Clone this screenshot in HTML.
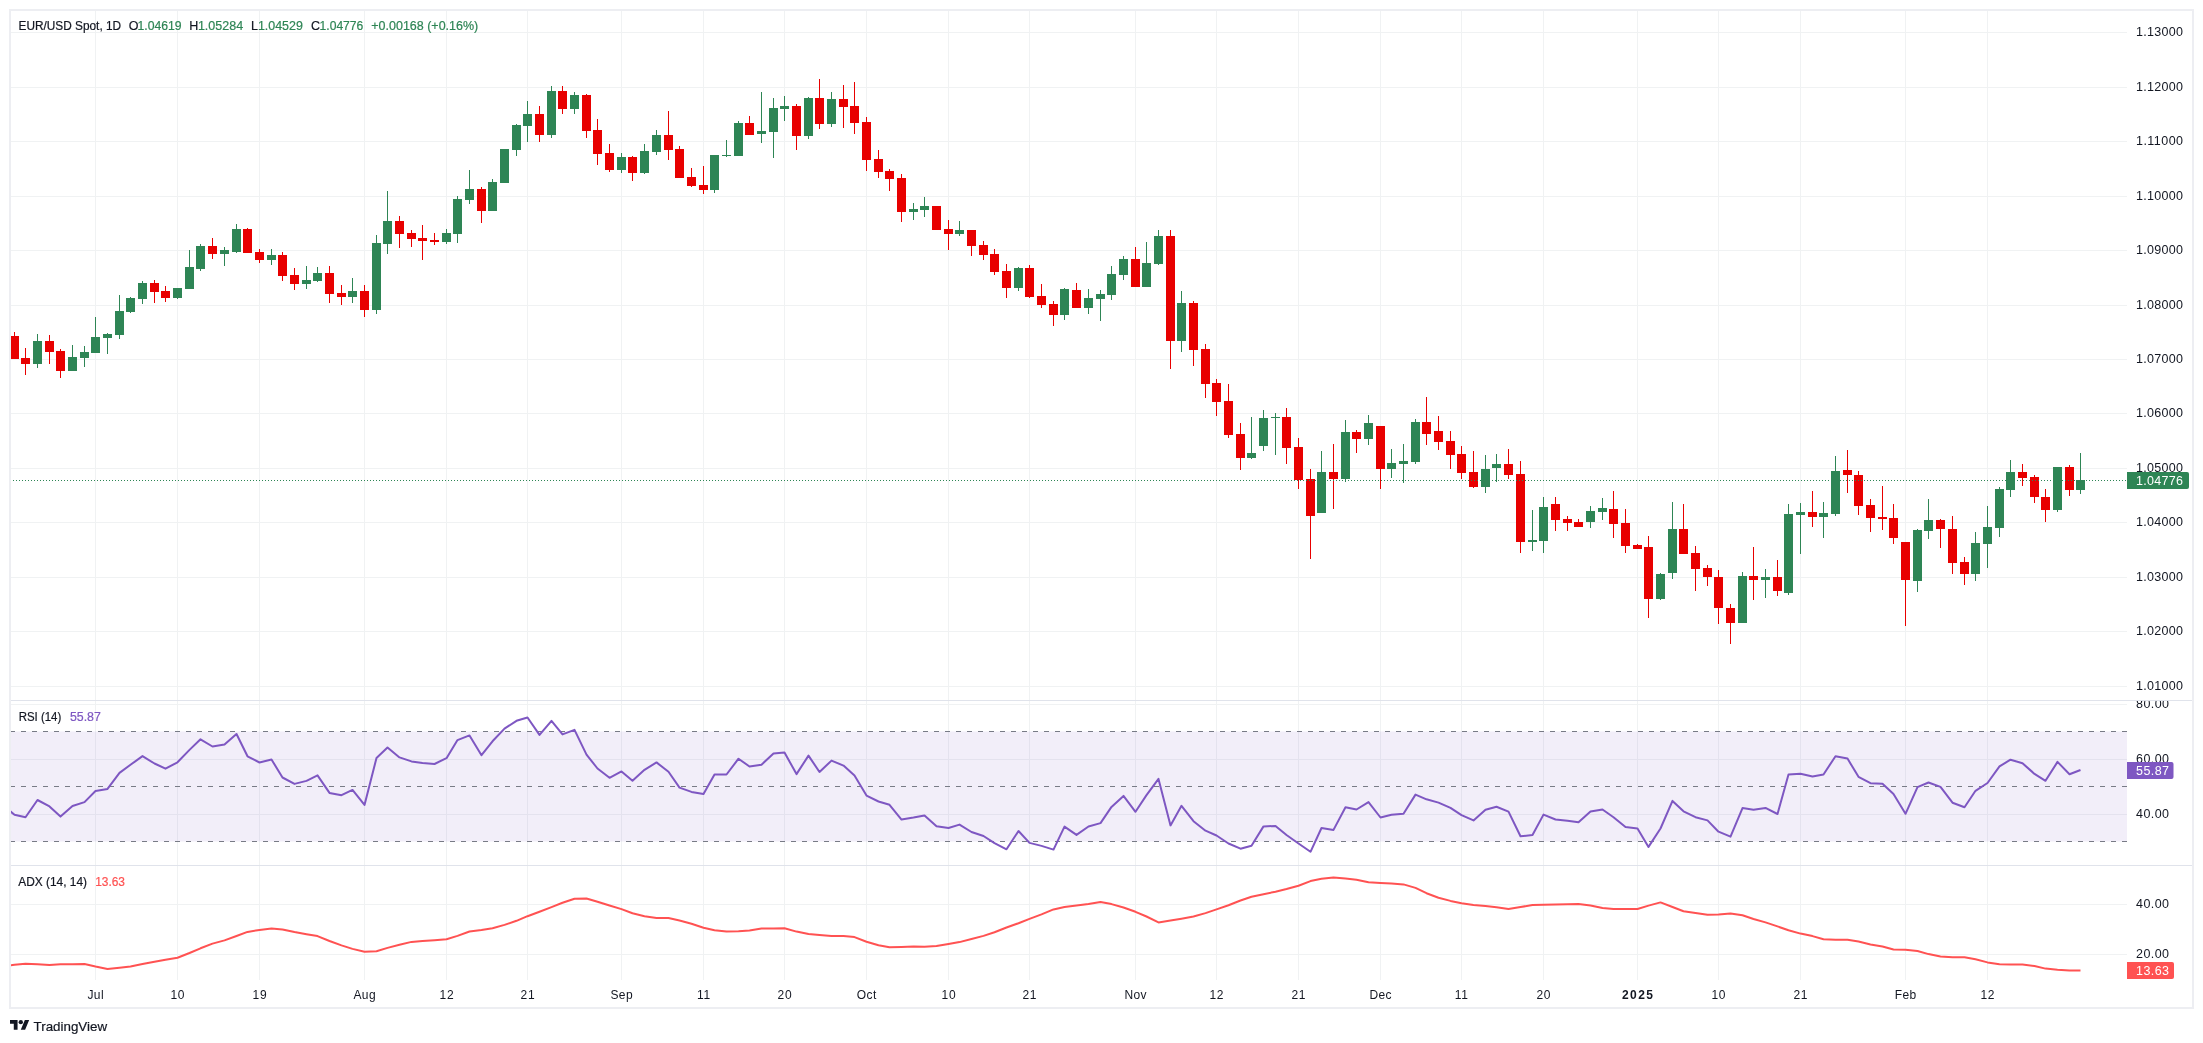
<!DOCTYPE html><html><head><meta charset="utf-8"><style>html,body{margin:0;padding:0;background:#fff;}svg{display:block;} #wrap{position:absolute;left:0;top:0;will-change:transform;} text{font-family:'Liberation Sans', sans-serif;}</style></head><body>
<div id="wrap">
<svg width="2203" height="1043" viewBox="0 0 2203 1043">
<rect x="0" y="0" width="2203" height="1043" fill="#ffffff"/>
<path d="M95 11V980 M177 11V980 M259 11V980 M364 11V980 M446 11V980 M527 11V980 M621 11V980 M703 11V980 M784 11V980 M866 11V980 M948 11V980 M1029 11V980 M1135 11V980 M1216 11V980 M1298 11V980 M1380 11V980 M1461 11V980 M1543 11V980 M1637 11V980 M1718 11V980 M1800 11V980 M1905 11V980 M1987 11V980" stroke="#f0f2f3" stroke-width="1" fill="none" transform="translate(0.5,0)" shape-rendering="crispEdges"/>
<path d="M11 32.5H2127 M11 87.5H2127 M11 141.5H2127 M11 196.5H2127 M11 250.5H2127 M11 305.5H2127 M11 359.5H2127 M11 413.5H2127 M11 468.5H2127 M11 522.5H2127 M11 577.5H2127 M11 631.5H2127 M11 686.5H2127 M11 704.5H2127 M11 759.5H2127 M11 814.5H2127 M11 904.5H2127 M11 954.5H2127" stroke="#f0f2f3" stroke-width="1" fill="none" shape-rendering="crispEdges"/>
<rect x="11" y="731.5" width="2116" height="110" fill="#7e57c2" fill-opacity="0.1"/>
<path d="M10 731.5H2127" stroke="#787b86" stroke-width="1" stroke-dasharray="5 6" shape-rendering="crispEdges"/>
<path d="M10 786.5H2127" stroke="#787b86" stroke-width="1" stroke-dasharray="5 6" shape-rendering="crispEdges"/>
<path d="M10 841.5H2127" stroke="#787b86" stroke-width="1" stroke-dasharray="5 6" shape-rendering="crispEdges"/>
<clipPath id="mainclip"><rect x="11" y="11" width="2116" height="689"/></clipPath>
<g clip-path="url(#mainclip)" shape-rendering="crispEdges">
<path d="M37 334h1V368h-1Z M72 345h1V371h-1Z M84 346h1V367h-1Z M95 317h1V353h-1Z M107 333h1V354h-1Z M119 295h1V339h-1Z M130 297h1V313h-1Z M142 281h1V304h-1Z M177 288h1V299h-1Z M189 250h1V289h-1Z M200 244h1V271h-1Z M224 247h1V266h-1Z M236 224h1V253h-1Z M271 249h1V265h-1Z M306 266h1V289h-1Z M317 267h1V282h-1Z M352 278h1V303h-1Z M376 235h1V314h-1Z M387 191h1V254h-1Z M446 229h1V244h-1Z M457 196h1V243h-1Z M469 170h1V204h-1Z M492 179h1V211h-1Z M504 149h1V183h-1Z M516 124h1V156h-1Z M527 101h1V142h-1Z M551 86h1V138h-1Z M574 92h1V114h-1Z M621 153h1V173h-1Z M644 144h1V174h-1Z M656 130h1V155h-1Z M714 155h1V193h-1Z M726 140h1V157h-1Z M738 121h1V156h-1Z M761 92h1V143h-1Z M773 98h1V158h-1Z M784 96h1V121h-1Z M808 97h1V139h-1Z M831 92h1V127h-1Z M913 203h1V220h-1Z M924 197h1V217h-1Z M959 221h1V236h-1Z M1018 267h1V291h-1Z M1064 288h1V320h-1Z M1088 289h1V314h-1Z M1100 290h1V321h-1Z M1111 266h1V300h-1Z M1123 256h1V280h-1Z M1146 242h1V287h-1Z M1158 230h1V265h-1Z M1181 291h1V352h-1Z M1251 417h1V459h-1Z M1263 410h1V451h-1Z M1275 413h1V455h-1Z M1321 451h1V513h-1Z M1345 420h1V482h-1Z M1368 415h1V445h-1Z M1391 449h1V478h-1Z M1403 444h1V483h-1Z M1415 419h1V464h-1Z M1485 455h1V493h-1Z M1496 454h1V482h-1Z M1532 510h1V551h-1Z M1543 497h1V553h-1Z M1590 506h1V528h-1Z M1602 498h1V520h-1Z M1660 573h1V600h-1Z M1672 502h1V579h-1Z M1742 572h1V623h-1Z M1765 569h1V598h-1Z M1788 504h1V595h-1Z M1800 503h1V554h-1Z M1823 502h1V538h-1Z M1835 456h1V516h-1Z M1917 529h1V592h-1Z M1928 499h1V539h-1Z M1975 532h1V581h-1Z M1987 506h1V568h-1Z M1999 487h1V537h-1Z M2010 460h1V497h-1Z M2057 467h1V512h-1Z M2080 453h1V494h-1Z M33 341h9V364h-9Z M68 357h9V371h-9Z M80 352h9V358h-9Z M91 337h9V353h-9Z M103 334h9V338h-9Z M115 311h9V335h-9Z M126 298h9V312h-9Z M138 283h9V299h-9Z M173 288h9V298h-9Z M185 267h9V289h-9Z M196 246h9V269h-9Z M220 250h9V254h-9Z M232 229h9V252h-9Z M267 255h9V260h-9Z M302 280h9V284h-9Z M313 273h9V281h-9Z M348 291h9V297h-9Z M372 243h9V310h-9Z M383 221h9V244h-9Z M442 233h9V242h-9Z M453 199h9V234h-9Z M465 189h9V200h-9Z M488 182h9V211h-9Z M500 149h9V183h-9Z M512 125h9V150h-9Z M523 114h9V126h-9Z M547 91h9V135h-9Z M570 95h9V109h-9Z M617 157h9V170h-9Z M640 151h9V173h-9Z M652 135h9V152h-9Z M710 155h9V190h-9Z M722 155h9V156h-9Z M734 123h9V156h-9Z M757 131h9V134h-9Z M769 108h9V132h-9Z M780 106h9V109h-9Z M804 98h9V136h-9Z M827 99h9V124h-9Z M909 209h9V212h-9Z M920 206h9V210h-9Z M955 230h9V234h-9Z M1014 268h9V288h-9Z M1060 289h9V315h-9Z M1084 298h9V308h-9Z M1096 294h9V299h-9Z M1107 274h9V295h-9Z M1119 259h9V275h-9Z M1142 263h9V287h-9Z M1154 236h9V264h-9Z M1177 303h9V341h-9Z M1247 453h9V458h-9Z M1259 418h9V446h-9Z M1271 417h9V418h-9Z M1317 472h9V513h-9Z M1341 432h9V479h-9Z M1364 423h9V439h-9Z M1387 463h9V469h-9Z M1399 461h9V464h-9Z M1411 422h9V462h-9Z M1481 469h9V487h-9Z M1492 464h9V468h-9Z M1528 540h9V542h-9Z M1539 507h9V541h-9Z M1586 511h9V522h-9Z M1598 508h9V512h-9Z M1656 574h9V599h-9Z M1668 529h9V573h-9Z M1738 576h9V623h-9Z M1761 577h9V580h-9Z M1784 514h9V593h-9Z M1796 512h9V515h-9Z M1819 513h9V517h-9Z M1831 471h9V514h-9Z M1913 530h9V581h-9Z M1924 520h9V531h-9Z M1971 543h9V574h-9Z M1983 527h9V544h-9Z M1995 489h9V528h-9Z M2006 472h9V490h-9Z M2053 467h9V510h-9Z M2076 480h9V490h-9Z" fill="#2e8555"/>
<path d="M14 332h1V359h-1Z M25 348h1V375h-1Z M49 335h1V364h-1Z M60 349h1V378h-1Z M154 280h1V303h-1Z M165 286h1V302h-1Z M212 238h1V259h-1Z M247 228h1V253h-1Z M259 249h1V263h-1Z M282 252h1V281h-1Z M294 268h1V290h-1Z M329 266h1V303h-1Z M341 285h1V305h-1Z M364 285h1V317h-1Z M399 216h1V248h-1Z M411 230h1V247h-1Z M422 225h1V260h-1Z M434 233h1V245h-1Z M481 187h1V223h-1Z M539 106h1V142h-1Z M562 86h1V114h-1Z M586 94h1V138h-1Z M597 119h1V165h-1Z M609 144h1V172h-1Z M632 156h1V181h-1Z M668 111h1V160h-1Z M679 146h1V178h-1Z M691 168h1V187h-1Z M703 166h1V194h-1Z M749 116h1V135h-1Z M796 104h1V150h-1Z M819 79h1V129h-1Z M843 85h1V128h-1Z M854 82h1V134h-1Z M866 117h1V171h-1Z M878 150h1V178h-1Z M889 169h1V191h-1Z M901 174h1V222h-1Z M936 206h1V230h-1Z M948 220h1V250h-1Z M971 230h1V256h-1Z M983 241h1V260h-1Z M994 249h1V275h-1Z M1006 264h1V298h-1Z M1029 265h1V298h-1Z M1041 284h1V308h-1Z M1053 301h1V326h-1Z M1076 283h1V308h-1Z M1135 247h1V287h-1Z M1170 230h1V369h-1Z M1193 301h1V366h-1Z M1205 344h1V398h-1Z M1216 379h1V416h-1Z M1228 384h1V438h-1Z M1240 423h1V470h-1Z M1286 408h1V464h-1Z M1298 438h1V489h-1Z M1310 469h1V559h-1Z M1333 444h1V509h-1Z M1356 430h1V453h-1Z M1380 426h1V489h-1Z M1426 397h1V445h-1Z M1438 416h1V450h-1Z M1450 431h1V469h-1Z M1461 446h1V479h-1Z M1473 451h1V488h-1Z M1508 449h1V479h-1Z M1520 461h1V553h-1Z M1555 497h1V531h-1Z M1567 516h1V531h-1Z M1578 519h1V527h-1Z M1613 491h1V538h-1Z M1625 509h1V553h-1Z M1637 544h1V549h-1Z M1648 536h1V618h-1Z M1683 504h1V554h-1Z M1695 546h1V591h-1Z M1707 565h1V586h-1Z M1718 570h1V624h-1Z M1730 604h1V644h-1Z M1753 547h1V600h-1Z M1777 560h1V596h-1Z M1812 491h1V527h-1Z M1847 450h1V493h-1Z M1858 471h1V515h-1Z M1870 499h1V532h-1Z M1882 486h1V530h-1Z M1893 504h1V544h-1Z M1905 542h1V626h-1Z M1940 519h1V548h-1Z M1952 516h1V574h-1Z M1964 557h1V585h-1Z M2022 464h1V486h-1Z M2034 475h1V503h-1Z M2045 489h1V522h-1Z M2069 465h1V496h-1Z M10 336h9V359h-9Z M21 358h9V364h-9Z M45 341h9V352h-9Z M56 351h9V371h-9Z M150 283h9V292h-9Z M161 291h9V298h-9Z M208 246h9V254h-9Z M243 229h9V253h-9Z M255 252h9V260h-9Z M278 255h9V276h-9Z M290 275h9V284h-9Z M325 273h9V294h-9Z M337 293h9V297h-9Z M360 291h9V310h-9Z M395 221h9V234h-9Z M407 233h9V239h-9Z M418 238h9V241h-9Z M430 240h9V242h-9Z M477 189h9V211h-9Z M535 114h9V135h-9Z M558 91h9V109h-9Z M582 95h9V131h-9Z M593 130h9V154h-9Z M605 153h9V170h-9Z M628 157h9V173h-9Z M664 135h9V150h-9Z M675 149h9V178h-9Z M687 177h9V186h-9Z M699 185h9V190h-9Z M745 123h9V135h-9Z M792 106h9V136h-9Z M815 98h9V124h-9Z M839 99h9V107h-9Z M850 106h9V123h-9Z M862 122h9V160h-9Z M874 159h9V172h-9Z M885 171h9V179h-9Z M897 178h9V212h-9Z M932 206h9V230h-9Z M944 229h9V234h-9Z M967 230h9V246h-9Z M979 245h9V255h-9Z M990 254h9V272h-9Z M1002 271h9V288h-9Z M1025 268h9V297h-9Z M1037 296h9V305h-9Z M1049 304h9V315h-9Z M1072 290h9V308h-9Z M1131 259h9V287h-9Z M1166 236h9V341h-9Z M1189 303h9V350h-9Z M1201 349h9V384h-9Z M1212 383h9V402h-9Z M1224 401h9V435h-9Z M1236 434h9V458h-9Z M1282 417h9V448h-9Z M1294 447h9V480h-9Z M1306 479h9V516h-9Z M1329 472h9V479h-9Z M1352 432h9V439h-9Z M1376 426h9V469h-9Z M1422 422h9V434h-9Z M1434 431h9V442h-9Z M1446 441h9V455h-9Z M1457 454h9V473h-9Z M1469 472h9V487h-9Z M1504 464h9V475h-9Z M1516 474h9V542h-9Z M1551 504h9V520h-9Z M1563 519h9V523h-9Z M1574 522h9V527h-9Z M1609 509h9V524h-9Z M1621 523h9V546h-9Z M1633 545h9V549h-9Z M1644 547h9V599h-9Z M1679 529h9V554h-9Z M1691 553h9V569h-9Z M1703 568h9V577h-9Z M1714 577h9V608h-9Z M1726 608h9V623h-9Z M1749 576h9V580h-9Z M1773 577h9V591h-9Z M1808 512h9V517h-9Z M1843 470h9V475h-9Z M1854 475h9V506h-9Z M1866 505h9V518h-9Z M1878 517h9V519h-9Z M1889 518h9V538h-9Z M1901 542h9V580h-9Z M1936 520h9V529h-9Z M1948 529h9V563h-9Z M1960 562h9V574h-9Z M2018 472h9V478h-9Z M2030 477h9V497h-9Z M2041 497h9V510h-9Z M2065 467h9V490h-9Z" fill="#e80000"/>
</g>
<path d="M11 480.5H2127" stroke="#2e8555" stroke-width="1" stroke-dasharray="1 2" stroke-dashoffset="1" shape-rendering="crispEdges"/>
<clipPath id="rsiclip"><rect x="11" y="701" width="2116" height="164"/></clipPath>
<polyline clip-path="url(#rsiclip)" points="2.5,805.0 14.5,814.7 25.5,817.3 37.5,800.0 49.5,806.4 60.5,816.6 72.5,806.0 84.5,802.1 95.5,791.0 107.5,788.9 119.5,772.9 130.5,764.8 142.5,756.1 154.5,763.5 165.5,768.7 177.5,762.3 189.5,749.9 200.5,739.3 212.5,746.5 224.5,744.6 236.5,734.0 247.5,756.3 259.5,762.5 271.5,759.5 282.5,777.5 294.5,783.9 306.5,780.9 317.5,775.4 329.5,792.9 341.5,795.2 352.5,789.9 364.5,804.9 376.5,758.0 387.5,747.5 399.5,757.4 411.5,761.4 422.5,763.0 434.5,764.0 446.5,758.2 457.5,740.1 469.5,735.4 481.5,755.2 492.5,741.3 504.5,728.6 516.5,720.8 527.5,717.5 539.5,734.9 551.5,720.9 562.5,734.4 574.5,729.9 586.5,754.6 597.5,768.5 609.5,777.8 621.5,771.4 632.5,780.7 644.5,769.8 656.5,762.4 668.5,771.7 679.5,787.6 691.5,791.9 703.5,794.1 714.5,774.5 726.5,774.5 738.5,758.7 749.5,766.5 761.5,764.7 773.5,753.4 784.5,752.5 796.5,774.1 808.5,755.6 819.5,772.0 831.5,760.6 843.5,765.6 854.5,775.5 866.5,795.6 878.5,801.5 889.5,804.8 901.5,819.6 913.5,817.6 924.5,815.4 936.5,826.2 948.5,828.0 959.5,824.6 971.5,832.0 983.5,836.0 994.5,843.1 1006.5,849.3 1018.5,831.0 1029.5,842.9 1041.5,845.9 1053.5,849.6 1064.5,826.6 1076.5,834.9 1088.5,826.5 1100.5,823.1 1111.5,806.9 1123.5,795.9 1135.5,811.8 1146.5,795.1 1158.5,778.9 1170.5,825.4 1181.5,805.8 1193.5,821.2 1205.5,830.7 1216.5,835.5 1228.5,843.5 1240.5,848.7 1251.5,845.8 1263.5,826.4 1275.5,825.9 1286.5,835.0 1298.5,843.5 1310.5,851.8 1321.5,828.0 1333.5,829.9 1345.5,807.2 1356.5,809.5 1368.5,802.1 1380.5,817.5 1391.5,814.7 1403.5,813.7 1415.5,794.6 1426.5,799.3 1438.5,802.6 1450.5,807.9 1461.5,815.1 1473.5,820.4 1485.5,809.7 1496.5,806.7 1508.5,811.6 1520.5,836.3 1532.5,835.0 1543.5,814.6 1555.5,819.5 1567.5,820.7 1578.5,822.3 1590.5,811.5 1602.5,809.5 1613.5,817.2 1625.5,827.1 1637.5,828.4 1648.5,846.9 1660.5,828.5 1672.5,800.9 1683.5,811.3 1695.5,817.2 1707.5,820.4 1718.5,831.7 1730.5,836.7 1742.5,808.1 1753.5,809.7 1765.5,807.9 1777.5,814.0 1788.5,774.6 1800.5,773.8 1812.5,776.4 1823.5,774.5 1835.5,756.2 1847.5,758.6 1858.5,776.8 1870.5,783.2 1882.5,783.7 1893.5,794.1 1905.5,813.8 1917.5,787.1 1928.5,782.5 1940.5,786.9 1952.5,802.7 1964.5,807.3 1975.5,790.8 1987.5,783.0 1999.5,766.4 2010.5,759.7 2022.5,763.2 2034.5,773.9 2045.5,780.8 2057.5,761.9 2069.5,774.3 2080.5,770.0" fill="none" stroke="#7e57c2" stroke-width="2" stroke-linejoin="round"/>
<clipPath id="adxclip"><rect x="11" y="866" width="2116" height="114"/></clipPath>
<polyline clip-path="url(#adxclip)" points="2.5,966.7 14.5,964.7 25.5,963.7 37.5,964.3 49.5,965.0 60.5,964.3 72.5,964.2 84.5,964.1 95.5,966.6 107.5,969.0 119.5,967.7 130.5,966.5 142.5,964.1 154.5,961.8 165.5,959.7 177.5,957.7 189.5,953.0 200.5,948.3 212.5,943.6 224.5,940.4 236.5,936.0 247.5,931.9 259.5,929.9 271.5,928.4 282.5,929.6 294.5,932.1 306.5,934.2 317.5,936.1 329.5,941.0 341.5,945.4 352.5,948.9 364.5,951.8 376.5,951.3 387.5,947.9 399.5,944.8 411.5,941.9 422.5,941.0 434.5,940.2 446.5,939.2 457.5,935.9 469.5,931.5 481.5,930.0 492.5,928.2 504.5,924.9 516.5,920.8 527.5,916.2 539.5,911.8 551.5,907.1 562.5,902.8 574.5,898.7 586.5,898.5 597.5,901.7 609.5,905.5 621.5,909.1 632.5,913.3 644.5,916.3 656.5,917.9 668.5,918.1 679.5,920.5 691.5,923.8 703.5,927.7 714.5,930.3 726.5,931.5 738.5,931.2 749.5,930.5 761.5,928.4 773.5,928.4 784.5,928.2 796.5,931.6 808.5,934.1 819.5,935.0 831.5,935.9 843.5,936.1 854.5,937.1 866.5,941.7 878.5,945.2 889.5,947.3 901.5,946.9 913.5,946.4 924.5,946.8 936.5,946.1 948.5,944.0 959.5,942.1 971.5,939.0 983.5,935.9 994.5,932.2 1006.5,927.5 1018.5,923.2 1029.5,918.9 1041.5,914.4 1053.5,909.4 1064.5,907.0 1076.5,905.6 1088.5,904.0 1100.5,902.0 1111.5,904.1 1123.5,907.5 1135.5,911.8 1146.5,916.5 1158.5,922.4 1170.5,920.5 1181.5,918.7 1193.5,916.5 1205.5,913.1 1216.5,909.4 1228.5,905.2 1240.5,900.5 1251.5,896.8 1263.5,894.2 1275.5,891.7 1286.5,889.0 1298.5,885.7 1310.5,881.1 1321.5,878.8 1333.5,877.4 1345.5,878.6 1356.5,879.7 1368.5,882.3 1380.5,882.9 1391.5,883.4 1403.5,884.4 1415.5,887.9 1426.5,893.2 1438.5,897.8 1450.5,900.9 1461.5,903.2 1473.5,904.9 1485.5,906.1 1496.5,907.3 1508.5,909.1 1520.5,907.0 1532.5,905.1 1543.5,904.8 1555.5,904.5 1567.5,904.2 1578.5,904.0 1590.5,905.5 1602.5,908.0 1613.5,909.1 1625.5,909.0 1637.5,909.0 1648.5,905.6 1660.5,902.4 1672.5,907.0 1683.5,911.2 1695.5,913.1 1707.5,914.8 1718.5,914.5 1730.5,913.4 1742.5,915.3 1753.5,919.0 1765.5,922.4 1777.5,926.4 1788.5,930.2 1800.5,933.6 1812.5,936.1 1823.5,939.3 1835.5,939.7 1847.5,939.7 1858.5,941.5 1870.5,944.5 1882.5,946.5 1893.5,949.5 1905.5,949.8 1917.5,951.0 1928.5,954.1 1940.5,956.4 1952.5,957.2 1964.5,957.3 1975.5,959.3 1987.5,962.4 1999.5,964.2 2010.5,964.4 2022.5,964.6 2034.5,966.0 2045.5,968.6 2057.5,969.7 2069.5,970.5 2080.5,970.6" fill="none" stroke="#ff5252" stroke-width="2" stroke-linejoin="round"/>
<path d="M11 700.5H2192M11 865.5H2192" stroke="#e0e3eb" stroke-width="1" shape-rendering="crispEdges"/>
<rect x="10" y="10" width="2183" height="998" fill="none" stroke="#edeef2" stroke-width="2" shape-rendering="crispEdges"/>
<text x="2136" y="36.0" font-size="12.5" class="ax" fill="#131722" textLength="47" lengthAdjust="spacing">1.13000</text>
<text x="2136" y="91.0" font-size="12.5" class="ax" fill="#131722" textLength="47" lengthAdjust="spacing">1.12000</text>
<text x="2136" y="145.0" font-size="12.5" class="ax" fill="#131722" textLength="47" lengthAdjust="spacing">1.11000</text>
<text x="2136" y="200.0" font-size="12.5" class="ax" fill="#131722" textLength="47" lengthAdjust="spacing">1.10000</text>
<text x="2136" y="254.0" font-size="12.5" class="ax" fill="#131722" textLength="47" lengthAdjust="spacing">1.09000</text>
<text x="2136" y="309.0" font-size="12.5" class="ax" fill="#131722" textLength="47" lengthAdjust="spacing">1.08000</text>
<text x="2136" y="363.0" font-size="12.5" class="ax" fill="#131722" textLength="47" lengthAdjust="spacing">1.07000</text>
<text x="2136" y="417.0" font-size="12.5" class="ax" fill="#131722" textLength="47" lengthAdjust="spacing">1.06000</text>
<text x="2136" y="472.0" font-size="12.5" class="ax" fill="#131722" textLength="47" lengthAdjust="spacing">1.05000</text>
<text x="2136" y="526.0" font-size="12.5" class="ax" fill="#131722" textLength="47" lengthAdjust="spacing">1.04000</text>
<text x="2136" y="581.0" font-size="12.5" class="ax" fill="#131722" textLength="47" lengthAdjust="spacing">1.03000</text>
<text x="2136" y="635.0" font-size="12.5" class="ax" fill="#131722" textLength="47" lengthAdjust="spacing">1.02000</text>
<text x="2136" y="690.0" font-size="12.5" class="ax" fill="#131722" textLength="47" lengthAdjust="spacing">1.01000</text>
<path d="M2127 472h60a2 2 0 0 1 2 2v13a2 2 0 0 1 -2 2h-60Z" fill="#2e8555"/>
<text x="2136" y="485" font-size="12.5" class="ax" fill="#ffffff" textLength="47" lengthAdjust="spacing">1.04776</text>
<clipPath id="rsiscale"><rect x="2127" y="701" width="65" height="164"/></clipPath>
<g clip-path="url(#rsiscale)">
<text x="2136" y="708.0" font-size="12.5" class="ax" fill="#131722" textLength="33" lengthAdjust="spacing">80.00</text>
<text x="2136" y="763.0" font-size="12.5" class="ax" fill="#131722" textLength="33" lengthAdjust="spacing">60.00</text>
<text x="2136" y="818.0" font-size="12.5" class="ax" fill="#131722" textLength="33" lengthAdjust="spacing">40.00</text>
</g>
<path d="M2127 762h44.5a2 2 0 0 1 2 2v13a2 2 0 0 1 -2 2h-44.5Z" fill="#7e57c2"/>
<text x="2136" y="775" font-size="12.5" class="ax" fill="#ffffff" textLength="33" lengthAdjust="spacing">55.87</text>
<text x="2136" y="908.0" font-size="12.5" class="ax" fill="#131722" textLength="33" lengthAdjust="spacing">40.00</text>
<text x="2136" y="958.0" font-size="12.5" class="ax" fill="#131722" textLength="33" lengthAdjust="spacing">20.00</text>
<path d="M2127 962h45a2 2 0 0 1 2 2v13a2 2 0 0 1 -2 2h-45Z" fill="#ff5252"/>
<text x="2136" y="975" font-size="12.5" class="ax" fill="#ffffff" textLength="33" lengthAdjust="spacing">13.63</text>
<text x="95.7" y="999" font-size="12" class="ax" fill="#131722" text-anchor="middle" letter-spacing="0.4">Jul</text>
<text x="177.8" y="999" font-size="12" class="ax" fill="#131722" text-anchor="middle" letter-spacing="0.7">10</text>
<text x="259.9" y="999" font-size="12" class="ax" fill="#131722" text-anchor="middle" letter-spacing="0.7">19</text>
<text x="364.7" y="999" font-size="12" class="ax" fill="#131722" text-anchor="middle" letter-spacing="0.4">Aug</text>
<text x="446.9" y="999" font-size="12" class="ax" fill="#131722" text-anchor="middle" letter-spacing="0.7">12</text>
<text x="527.9" y="999" font-size="12" class="ax" fill="#131722" text-anchor="middle" letter-spacing="0.7">21</text>
<text x="621.7" y="999" font-size="12" class="ax" fill="#131722" text-anchor="middle" letter-spacing="0.4">Sep</text>
<text x="703.9" y="999" font-size="12" class="ax" fill="#131722" text-anchor="middle" letter-spacing="0.7">11</text>
<text x="784.9" y="999" font-size="12" class="ax" fill="#131722" text-anchor="middle" letter-spacing="0.7">20</text>
<text x="866.7" y="999" font-size="12" class="ax" fill="#131722" text-anchor="middle" letter-spacing="0.4">Oct</text>
<text x="948.9" y="999" font-size="12" class="ax" fill="#131722" text-anchor="middle" letter-spacing="0.7">10</text>
<text x="1029.8" y="999" font-size="12" class="ax" fill="#131722" text-anchor="middle" letter-spacing="0.7">21</text>
<text x="1135.7" y="999" font-size="12" class="ax" fill="#131722" text-anchor="middle" letter-spacing="0.4">Nov</text>
<text x="1216.8" y="999" font-size="12" class="ax" fill="#131722" text-anchor="middle" letter-spacing="0.7">12</text>
<text x="1298.8" y="999" font-size="12" class="ax" fill="#131722" text-anchor="middle" letter-spacing="0.7">21</text>
<text x="1380.7" y="999" font-size="12" class="ax" fill="#131722" text-anchor="middle" letter-spacing="0.4">Dec</text>
<text x="1461.8" y="999" font-size="12" class="ax" fill="#131722" text-anchor="middle" letter-spacing="0.7">11</text>
<text x="1543.8" y="999" font-size="12" class="ax" fill="#131722" text-anchor="middle" letter-spacing="0.7">20</text>
<text x="1622.0" y="999" font-size="12" class="ax" font-weight="bold" fill="#131722" textLength="31" lengthAdjust="spacing">2025</text>
<text x="1718.8" y="999" font-size="12" class="ax" fill="#131722" text-anchor="middle" letter-spacing="0.7">10</text>
<text x="1800.8" y="999" font-size="12" class="ax" fill="#131722" text-anchor="middle" letter-spacing="0.7">21</text>
<text x="1905.7" y="999" font-size="12" class="ax" fill="#131722" text-anchor="middle" letter-spacing="0.4">Feb</text>
<text x="1987.8" y="999" font-size="12" class="ax" fill="#131722" text-anchor="middle" letter-spacing="0.7">12</text>
<text x="18.5" y="30" font-size="12" fill="#131722" stroke="#131722" stroke-width="0.2" textLength="102.6" lengthAdjust="spacingAndGlyphs">EUR/USD Spot, 1D</text>
<text x="128.7" y="30" font-size="12.5" fill="#131722" stroke="#131722" stroke-width="0.2">O</text>
<text x="137.5" y="30" font-size="12.5" fill="#2e8555" stroke="#2e8555" stroke-width="0.2" textLength="44.1" lengthAdjust="spacingAndGlyphs">1.04619</text>
<text x="189.2" y="30" font-size="12.5" fill="#131722" stroke="#131722" stroke-width="0.2">H</text>
<text x="197.9" y="30" font-size="12.5" fill="#2e8555" stroke="#2e8555" stroke-width="0.2" textLength="45.2" lengthAdjust="spacingAndGlyphs">1.05284</text>
<text x="250.9" y="30" font-size="12.5" fill="#131722" stroke="#131722" stroke-width="0.2">L</text>
<text x="257.9" y="30" font-size="12.5" fill="#2e8555" stroke="#2e8555" stroke-width="0.2" textLength="45.0" lengthAdjust="spacingAndGlyphs">1.04529</text>
<text x="310.9" y="30" font-size="12.5" fill="#131722" stroke="#131722" stroke-width="0.2">C</text>
<text x="319.6" y="30" font-size="12.5" fill="#2e8555" stroke="#2e8555" stroke-width="0.2" textLength="43.7" lengthAdjust="spacingAndGlyphs">1.04776</text>
<text x="371.3" y="30" font-size="12.5" fill="#2e8555" stroke="#2e8555" stroke-width="0.2" textLength="106.9" lengthAdjust="spacingAndGlyphs">+0.00168 (+0.16%)</text>
<text x="18.7" y="721" font-size="12" fill="#131722" stroke="#131722" stroke-width="0.2" textLength="42.6" lengthAdjust="spacingAndGlyphs">RSI (14)</text>
<text x="69.9" y="721" font-size="12.5" fill="#7e57c2" stroke="#7e57c2" stroke-width="0.2" textLength="31" lengthAdjust="spacingAndGlyphs">55.87</text>
<text x="18.3" y="886" font-size="12" fill="#131722" stroke="#131722" stroke-width="0.2" textLength="68.7" lengthAdjust="spacingAndGlyphs">ADX (14, 14)</text>
<text x="95.2" y="886" font-size="12.5" fill="#ff5252" stroke="#ff5252" stroke-width="0.2" textLength="29.8" lengthAdjust="spacingAndGlyphs">13.63</text>
<g transform="translate(10,1017.84) scale(0.54)" fill="#131722"><path d="M14 22H7V11H0V4h14v18zM28 22h-8l7.5-18h8L28 22z"/><circle cx="20" cy="8" r="4"/></g>
<text x="33.5" y="1030.8" font-size="13.6" fill="#131722" stroke="#131722" stroke-width="0.2" textLength="73.6" lengthAdjust="spacingAndGlyphs">TradingView</text>
</svg></div></body></html>
